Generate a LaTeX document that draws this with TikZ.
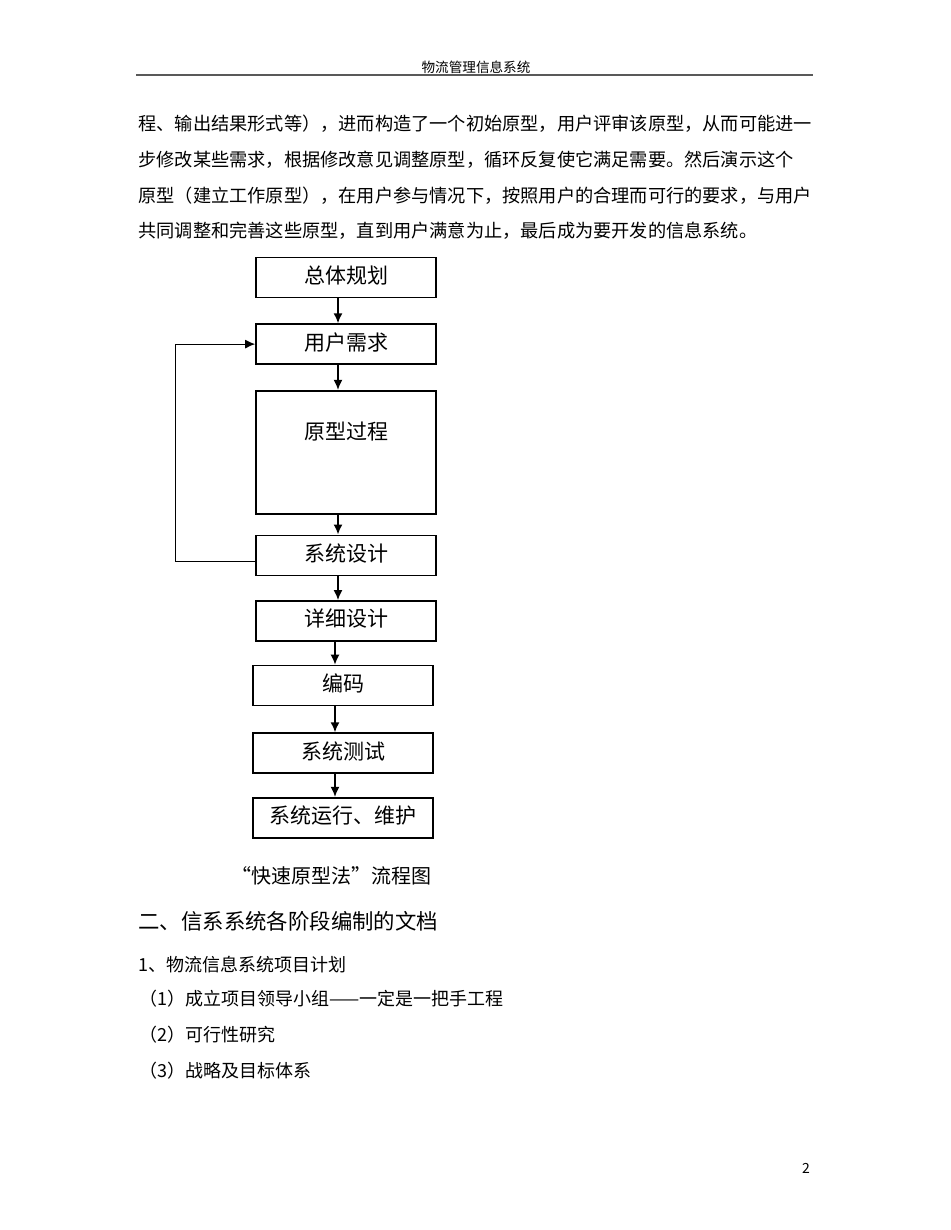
\documentclass[tikz,border=0pt]{standalone}
\usepackage{fontspec}
\setmainfont{Noto Sans CJK SC}
\usetikzlibrary{arrows,arrows.meta,positioning}
\tikzset{
  stage/.style = {draw, thick, rectangle, minimum width=90pt,
                  minimum height=20pt, inner sep=0pt, text height=8pt,
                  text depth=2pt, font=\fontsize{10.5}{12}\selectfont},
  body/.style  = {anchor=west, inner sep=0pt,
                  font=\fontsize{9.1}{11}\selectfont},
  item/.style  = {body, font=\fontsize{9}{11}\selectfont}
}

\begin{document}
\begin{tikzpicture}[x=0.5pt, y=-0.5pt, >={Latex[length=5pt,width=4.5pt]}]
	\useasboundingbox (0,0) rectangle (950,1230);

	% page header
	\node[font=\fontsize{6.8}{8}\selectfont, inner sep=0pt] (head) at (476,67) {物流管理信息系统};
	\draw[line width=1pt, black!65] (136,75) -- (813,75);

	% the text above the chart
	\node[body] (p1) at (138,124) {程、输出结果形式等），进而构造了一个初始原型，用户评审该原型，从而可能进一};
	\node[body] (p2) at (138,160) {步修改某些需求，根据修改意见调整原型，循环反复使它满足需要。然后演示这个};
	\node[body] (p3) at (138,196) {原型（建立工作原型），在用户参与情况下，按照用户的合理而可行的要求，与用户};
	\node[body] (p4) at (138,231) {共同调整和完善这些原型，直到用户满意为止，最后成为要开发的信息系统。};

	% the stages, one below the other
	\node[stage] (plan) at (346,277.5) {总体规划};
	\node[stage, below=12.5pt of plan] (req) {用户需求};
	\node[stage, below=12.5pt of req, minimum height=61.5pt, text depth=21pt] (proto) {原型过程};
	\node[stage, below=10pt of proto] (design) {系统设计};
	\node[stage, below=12pt of design] (detail) {详细设计};
	\node[stage, below=11.5pt of detail, xshift=-1.5pt] (code) {编码};
	\node[stage, below=13pt of code] (test) {系统测试};
	\node[stage, below=11.5pt of test] (run) {系统运行、维护};

	% arrows between the stages, straight down onto the next box
	\foreach \from/\to in {plan/req, req/proto, proto/design, design/detail,
	                       detail/code, code/test, test/run}
	  \draw[->, thick] ([xshift=-4pt]\to.north |- \from.south) -- ([xshift=-4pt]\to.north);

	% loop back from the design to the needs
	\draw[->, line width=0.6pt] ([yshift=-3pt]design.west) -- ++(-40pt,0) |- (req.west);

	% caption and the text below the chart
	\node[inner sep=0pt, anchor=west, font=\fontsize{10}{12}\selectfont] (cap) at (231,876) {“快速原型法”流程图};
	\node[body, font=\fontsize{10.7}{13}\selectfont] (sec) at (138,921) {二、信系系统各阶段编制的文档};
	\node[item] (i0) at (138,965) {1、物流信息系统项目计划};
	\node[item] (i1) at (139,999) {（1）成立项目领导小组——一定是一把手工程};
	\node[item] (i2) at (139,1035) {（2）可行性研究};
	\node[item] (i3) at (139,1071) {（3）战略及目标体系};

	% page number
	\node[inner sep=0pt, font=\fontsize{7}{8}\selectfont] (page) at (806,1168) {2};
\end{tikzpicture}
\end{document}
